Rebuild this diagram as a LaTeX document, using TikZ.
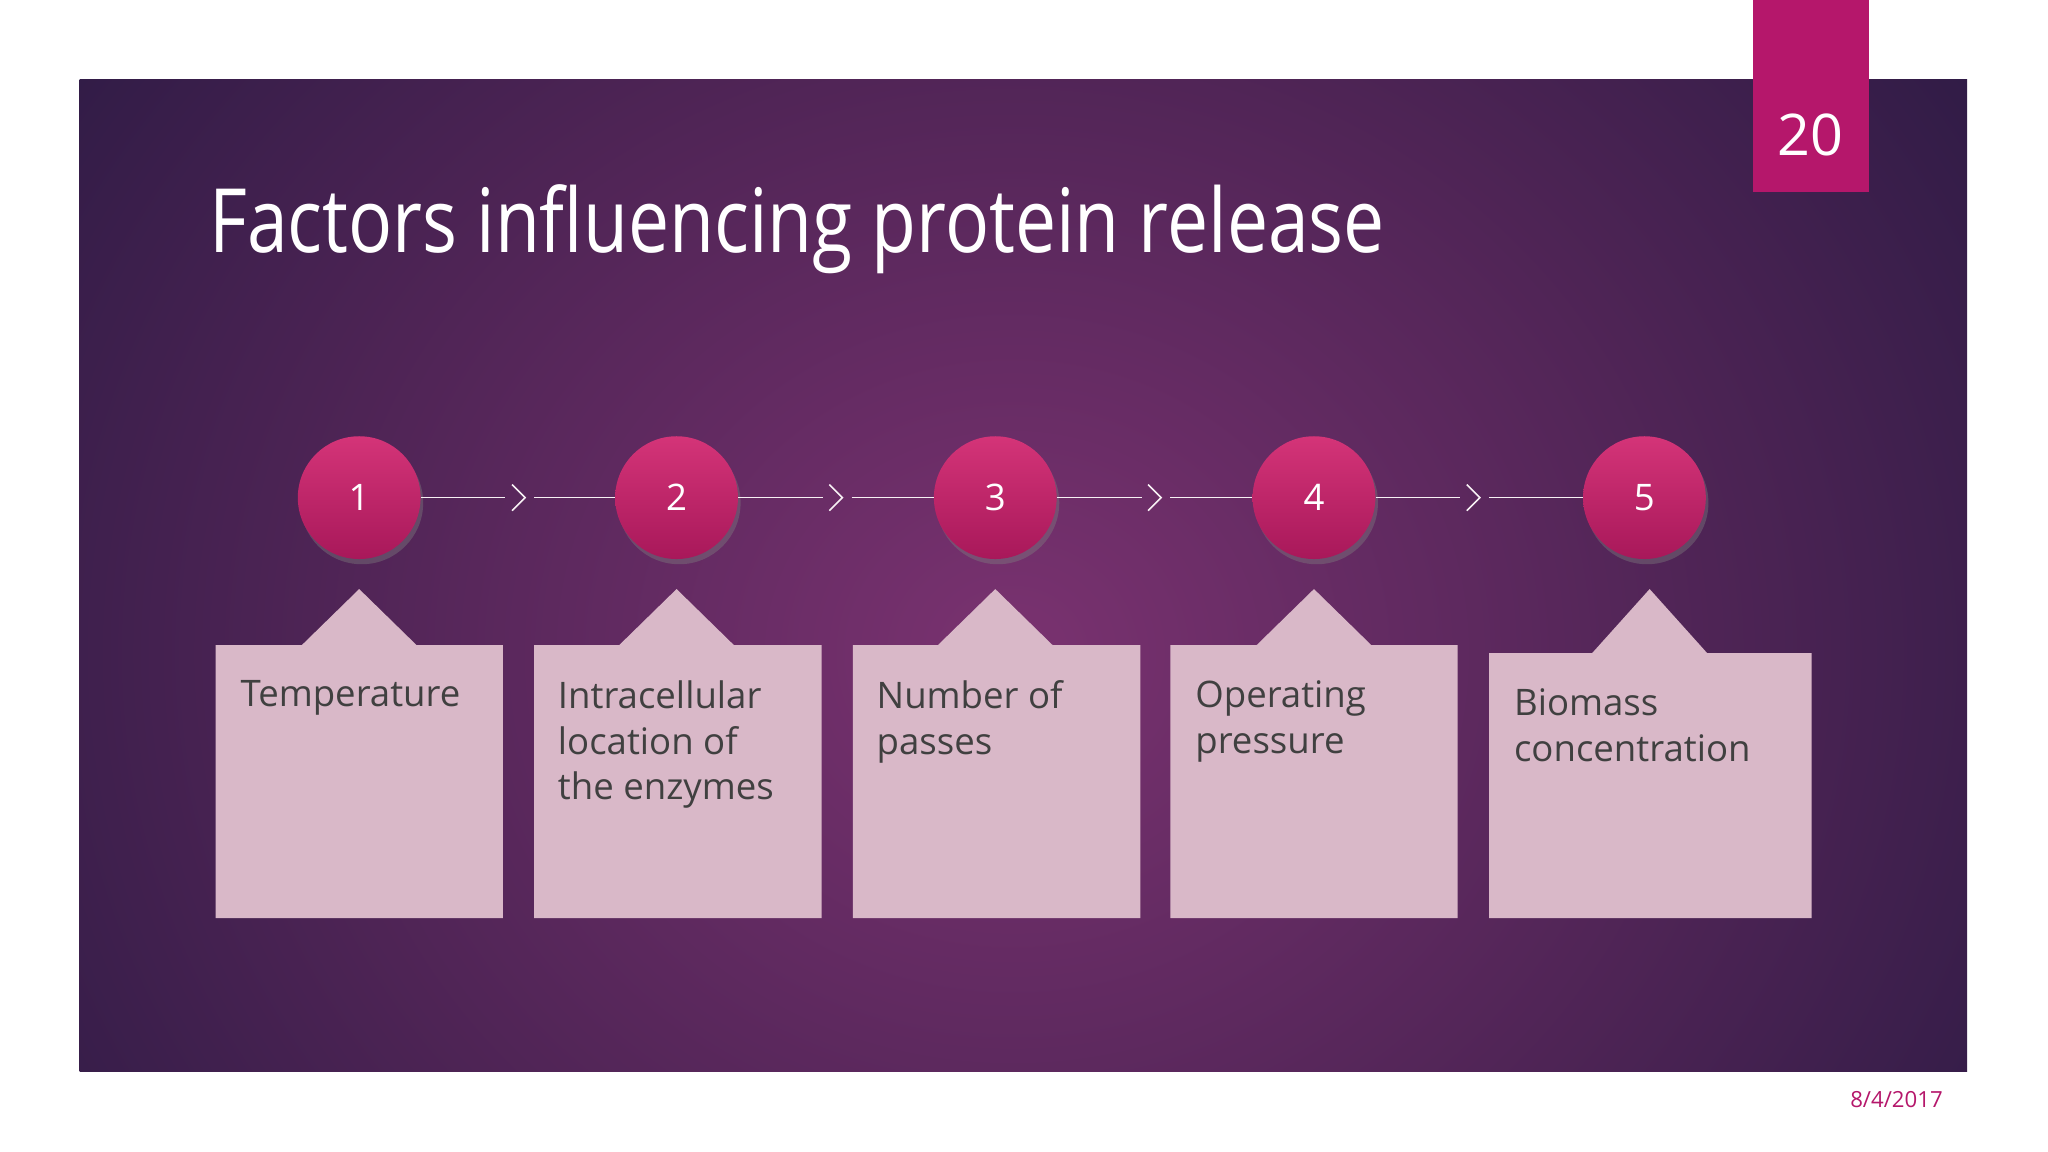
\documentclass[tikz,border=0pt]{standalone}
\usepackage{fontspec}
\setmainfont{Open Sans}
\usetikzlibrary{shadows}
\definecolor{mag}{HTML}{B5176B}
\definecolor{pinkbox}{HTML}{D9B8C8}
\definecolor{bgin}{HTML}{7A3270}
\definecolor{bgmid}{HTML}{4E2455}
\definecolor{bgout}{HTML}{241840}
\definecolor{circ}{HTML}{D43478}
\definecolor{circlo}{HTML}{A8185A}
\pgfdeclareradialshading{slidebg}{\pgfpoint{0bp}{0bp}}{color(0bp)=(bgin); color(11bp)=(bgmid); color(21bp)=(bgout); color(50bp)=(bgout)}
\tikzset{
  num/.style={circle,minimum size=94pt,inner sep=0pt,top color=circ,bottom color=circlo,drop shadow={opacity=0.4,shadow xshift=2pt,shadow yshift=-4pt},text=white,font=\fontsize{28}{34}\selectfont},
  conn/.style={draw=white!80!pinkbox,line width=1pt},
  chev/.style={draw=white!80!pinkbox,line width=1.2pt},
  lbl/.style={anchor=north west,align=left,text=black!75,font=\fontsize{28}{35}\selectfont,inner sep=0pt},
}
\begin{document}
\begin{tikzpicture}[x=1pt,y=-1pt]
\useasboundingbox (0,0) rectangle (1568,882);
\fill[white] (0,0) rectangle (1568,882);
\begin{scope}
\clip (61,61) rectangle (1506,820);
\shade[shading=slidebg] (-450,-600) rectangle (2000,1600);
\end{scope}
\fill[mag] (1342,0) rectangle (1431,147);
\node[text=white,font=\fontsize{44}{50}\selectfont] (pg) at (1386,103) {20};
\node[anchor=base west,text=white,inner sep=0pt] (title) at (160,193) {\resizebox{900pt}{52pt}{\fontsize{64}{70}\selectfont Factors influencing protein release}};
\node[anchor=base,text=mag,font=\fontsize{17}{20}\selectfont] (date) at (1452,848) {8/4/2017};
\foreach \l/\r/\t/\c in {165/385/494/275,409/629/494/518,653/873/494/762,896/1116/494/1006,1140/1387/500/1263}{
  \fill[pinkbox] (\l,703) -- (\l,\t) -- (\c-44,\t) -- (\c,451) -- (\c+44,\t) -- (\r,\t) -- (\r,703) -- cycle;
}
\node[lbl] (t1) at (184,521) {Temperature};
\node[lbl] (t2) at (427,521) {Intracellular\\location of\\the enzymes};
\node[lbl] (t3) at (671,521) {Number of\\passes};
\node[lbl] (t4) at (915,521) {Operating\\pressure};
\node[lbl] (t5) at (1159,527) {Biomass\\concentration};
\node[num] (c1) at (275,381) {1};
\node[num] (c2) at (518,381) {2};
\node[num] (c3) at (762,381) {3};
\node[num] (c4) at (1006,381) {4};
\node[num] (c5) at (1259,381) {5};
\foreach \a/\b/\x in {c1/c2/397,c2/c3/640,c3/c4/884,c4/c5/1128}{
  \coordinate (k) at (\x,381);
  \draw[conn] (\a.east) -- ([xshift=-10pt]k);
  \draw[conn] ([xshift=12pt]k) -- (\b.west);
  \draw[chev] ([xshift=-5pt,yshift=-10pt]k) -- ([xshift=5pt]k) -- ([xshift=-5pt,yshift=10pt]k);
}
\end{tikzpicture}
\end{document}
